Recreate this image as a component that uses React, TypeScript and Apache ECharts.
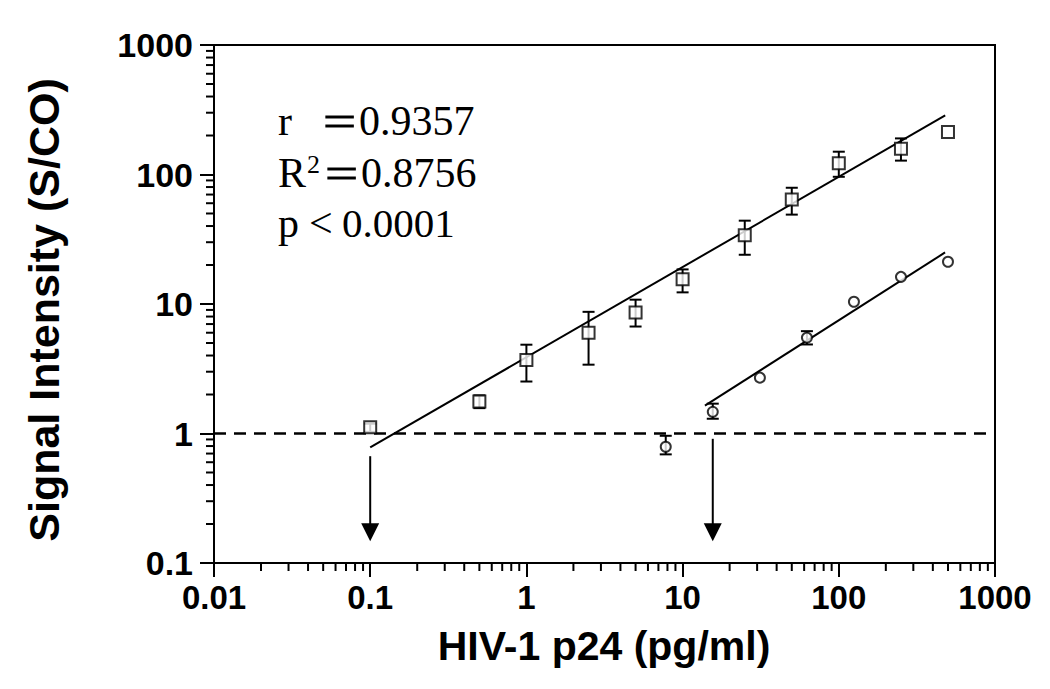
import React, { useEffect, useRef } from "react";
import * as echarts from "echarts";

// ---- Tick labels ----
const xTickLabels = ["0.01", "0.1", "1", "10", "100", "1000"];
const yTickLabels = ["0.1", "1", "10", "100", "1000"];

// ---- Squares (with error bars) ----
const squareX = [0.1, 0.5, 1, 2.5, 5, 10, 25, 50, 100, 250, 500];
const squareY = [1.12, 1.77, 3.7, 6.0, 8.6, 15.5, 34, 64, 122, 158, 213];
const squareLow = [1.03, 1.57, 2.52, 3.4, 6.7, 12.3, 24, 49, 96, 128, null];
const squareHigh = [1.19, 1.97, 4.85, 8.7, 10.8, 18.5, 44, 79, 150, 190, null];

// ---- Circles (with error bars) ----
const circleX = [7.8, 15.6, 31.25, 62.5, 125, 250, 500];
const circleY = [0.79, 1.47, 2.7, 5.5, 10.4, 16.2, 21.2];
const circleLow = [0.69, 1.3, null, 4.87, null, null, null];
const circleHigh = [0.96, 1.7, null, 6.17, null, null, null];

// ---- Fitted lines ----
const squareFitX = [0.1, 480];
const squareFitY = [0.78, 286];
const circleFitX = [13.9, 479];
const circleFitY = [1.64, 25];

// ---- Cut-off line ----
const cutoffX = [0.01, 1000];
const cutoffY = [1, 1];

// ---- Arrows (detection limits) ----
const arrowX = [0.1, 15.6];
const arrowFrom = [0.668, 0.91];
const arrowTo = [0.147, 0.147];

// ---- Axis ranges ----
const xMin = 0.01, xMax = 1000;
const yMin = 0.1, yMax = 1000;

function minorTicks(lo: number, hi: number): number[] {
  const out: number[] = [];
  for (let e = Math.round(Math.log10(lo)); e < Math.round(Math.log10(hi)); e++) {
    for (let m = 2; m <= 9; m++) out.push(Number((m * Math.pow(10, e)).toPrecision(3)));
  }
  return out;
}

const BLACK = "#000";
const SANS = '"Liberation Sans", Arial, Helvetica, sans-serif';
const SERIF = '"Liberation Serif", "Times New Roman", serif';

function errorData(xs: number[], lo: (number | null)[], hi: (number | null)[]) {
  const d: number[][] = [];
  xs.forEach((x, i) => {
    if (lo[i] != null && hi[i] != null) d.push([x, lo[i] as number, hi[i] as number]);
  });
  return d;
}

const errorRender = (params: any, api: any) => {
  const x = api.value(0);
  const top = api.coord([x, api.value(2)]);
  const bot = api.coord([x, api.value(1)]);
  const w = 6;
  const st = { stroke: BLACK, lineWidth: 2 };
  return {
    type: "group",
    children: [
      { type: "line", shape: { x1: top[0], y1: top[1], x2: bot[0], y2: bot[1] }, style: st },
      { type: "line", shape: { x1: top[0] - w, y1: top[1], x2: top[0] + w, y2: top[1] }, style: st },
      { type: "line", shape: { x1: bot[0] - w, y1: bot[1], x2: bot[0] + w, y2: bot[1] }, style: st },
    ],
  };
};

export default function App() {
  const ref = useRef<HTMLDivElement>(null);

  useEffect(() => {
    document.body.style.margin = "0";
    if (!ref.current) return;
    const chart = echarts.init(ref.current, undefined, { renderer: "svg" });

    const xMinor = minorTicks(xMin, xMax);
    const yMinor = minorTicks(yMin, yMax);

    const axisCommon = {
      type: "log" as const,
      logBase: 10,
      axisLine: { show: true, lineStyle: { color: BLACK, width: 2 } },
      axisTick: { show: true, inside: false, length: 14, lineStyle: { color: BLACK, width: 2 } },
      splitLine: { show: false },
      minorTick: { show: false },
    };

    const statFont = `42px ${SERIF}`;
    const stat = (text: string, x: number, y: number, extra: any = {}, font = statFont) => ({
      type: "text",
      x,
      y,
      ...extra,
      style: { text, font, fill: BLACK, textAlign: "left", textVerticalAlign: "middle", ...(extra.style || {}) },
    });

    const option: any = {
      animation: false,
      backgroundColor: "#fff",
      grid: {
        left: 214,
        top: 45,
        width: 781,
        height: 518,
        show: true,
        borderColor: BLACK,
        borderWidth: 2,
        backgroundColor: "transparent",
      },
      xAxis: {
        ...axisCommon,
        min: xMin,
        max: xMax,
        axisLabel: {
          color: BLACK,
          fontFamily: SANS,
          fontWeight: "bold",
          fontSize: 33,
          margin: 18,
          formatter: (v: number) => xTickLabels[Math.round(Math.log10(v)) - Math.round(Math.log10(xMin))] ?? "",
        },
      },
      yAxis: {
        ...axisCommon,
        min: yMin,
        max: yMax,
        axisLabel: {
          color: BLACK,
          fontFamily: SANS,
          fontWeight: "bold",
          fontSize: 34,
          margin: 21,
          formatter: (v: number) => yTickLabels[Math.round(Math.log10(v)) - Math.round(Math.log10(yMin))] ?? "",
        },
      },
      series: [
        // minor ticks, x
        {
          type: "custom",
          silent: true,
          data: xMinor.map((v) => [v, yMin]),
          encode: { x: 0, y: 1 },
          renderItem: (p: any, api: any) => {
            const c = api.coord([api.value(0), api.value(1)]);
            return { type: "line", shape: { x1: c[0], y1: c[1], x2: c[0], y2: c[1] + 8 }, style: { stroke: BLACK, lineWidth: 2 } };
          },
          z: 5,
        },
        // minor ticks, y
        {
          type: "custom",
          silent: true,
          data: yMinor.map((v) => [xMin, v]),
          encode: { x: 0, y: 1 },
          renderItem: (p: any, api: any) => {
            const c = api.coord([api.value(0), api.value(1)]);
            return { type: "line", shape: { x1: c[0] - 8, y1: c[1], x2: c[0], y2: c[1] }, style: { stroke: BLACK, lineWidth: 2 } };
          },
          z: 5,
        },
        // cut-off dashed line
        {
          type: "line",
          data: cutoffX.map((x, i) => [x, cutoffY[i]]),
          symbol: "none",
          lineStyle: { color: BLACK, width: 2.5, type: [12, 8] },
          z: 2,
        },
        // fit lines
        {
          type: "line",
          data: squareFitX.map((x, i) => [x, squareFitY[i]]),
          symbol: "none",
          lineStyle: { color: BLACK, width: 2 },
          z: 2,
        },
        {
          type: "line",
          data: circleFitX.map((x, i) => [x, circleFitY[i]]),
          symbol: "none",
          lineStyle: { color: BLACK, width: 2 },
          z: 2,
        },
        // error bars
        {
          type: "custom",
          data: errorData(squareX, squareLow, squareHigh),
          encode: { x: 0, y: [1, 2] },
          renderItem: errorRender,
          z: 3,
        },
        {
          type: "custom",
          data: errorData(circleX, circleLow, circleHigh),
          encode: { x: 0, y: [1, 2] },
          renderItem: errorRender,
          z: 3,
        },
        // markers
        {
          type: "scatter",
          data: squareX.map((x, i) => [x, squareY[i]]),
          symbol: "rect",
          symbolSize: 12,
          itemStyle: { color: "#fff", borderColor: BLACK, borderWidth: 2 },
          z: 4,
        },
        {
          type: "scatter",
          data: circleX.map((x, i) => [x, circleY[i]]),
          symbol: "circle",
          symbolSize: 10,
          itemStyle: { color: "#fff", borderColor: BLACK, borderWidth: 2 },
          z: 4,
        },
        // arrows
        {
          type: "custom",
          data: arrowX.map((x, i) => [x, arrowFrom[i], arrowTo[i]]),
          encode: { x: 0, y: [1, 2] },
          renderItem: (p: any, api: any) => {
            const x = api.value(0);
            const a = api.coord([x, api.value(1)]);
            const b = api.coord([x, api.value(2)]);
            const hl = 18, hw = 9;
            return {
              type: "group",
              children: [
                { type: "line", shape: { x1: a[0], y1: a[1], x2: b[0], y2: b[1] - hl + 2 }, style: { stroke: BLACK, lineWidth: 2 } },
                {
                  type: "polygon",
                  shape: { points: [[b[0], b[1]], [b[0] - hw, b[1] - hl], [b[0] + hw, b[1] - hl]] },
                  style: { fill: BLACK },
                },
              ],
            };
          },
          z: 3,
        },
      ],
      graphic: [
        {
          type: "text",
          x: 44,
          y: 310,
          rotation: Math.PI / 2,
          style: { text: "Signal Intensity (S/CO)", font: `bold 43px ${SANS}`, fill: BLACK, textAlign: "center", textVerticalAlign: "middle" },
        },
        {
          type: "text",
          x: 604,
          y: 646,
          style: { text: "HIV-1 p24 (pg/ml)", font: `bold 41px ${SANS}`, fill: BLACK, textAlign: "center", textVerticalAlign: "middle" },
        },
        // statistics block
        stat("r", 278, 121),
        stat("=", 323, 121, { scaleX: 1.4, style: { stroke: BLACK, lineWidth: 0.8 } }),
        stat("0.9357", 359, 121),
        stat("R", 278, 173),
        stat("2", 307, 164, {}, `26px ${SERIF}`),
        stat("=", 325, 173, { scaleX: 1.4, style: { stroke: BLACK, lineWidth: 0.8 } }),
        stat("0.8756", 361, 173),
        stat("p", 278, 223),
        stat("<", 309, 223),
        stat("0.0001", 342, 223, {}, `41px ${SERIF}`),
      ],
    };

    chart.setOption(option);
    return () => chart.dispose();
  }, []);

  return <div ref={ref} style={{ width: 1050, height: 689 }} />;
}
